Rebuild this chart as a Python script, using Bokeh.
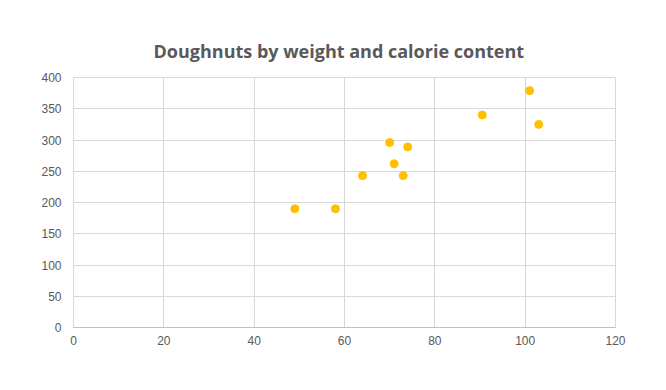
from bokeh.plotting import figure
from bokeh.models import ColumnDataSource, FixedTicker
from bokeh.embed import file_html
from bokeh.resources import INLINE

# Data
weight = [49, 58, 64, 70, 71, 73, 74, 90.5, 101, 103]
calories = [190, 190, 243, 296, 262, 243, 289, 340, 379, 325]
x_ticks = [0, 20, 40, 60, 80, 100, 120]
y_ticks = [0, 50, 100, 150, 200, 250, 300, 350, 400]

source = ColumnDataSource(data=dict(weight=weight, calories=calories))

p = figure(
    frame_width=542, frame_height=250,
    x_range=(0, 120), y_range=(0, 400),
    output_backend="svg", toolbar_location=None,
    min_border_left=73, min_border_right=43, min_border_top=77, min_border_bottom=30,
    background_fill_color="white", border_fill_color="white",
)

p.title.text = "Doughnuts by weight and calorie content"
p.title.align = "left"
p.title.offset = 80
p.title.text_font = "Open Sans"
p.title.text_font_style = "bold"
p.title.text_font_size = "18px"
p.title.text_color = "#595959"
p.title.standoff = 30

p.outline_line_color = "#d9d9d9"

for ax, ticks in ((p.xaxis, x_ticks), (p.yaxis, y_ticks)):
    ax.ticker = FixedTicker(ticks=ticks)
    ax.major_label_text_font = "Liberation Sans"
    ax.major_label_text_font_size = "12px"
    ax.major_label_text_color = "#595959"
    ax.major_tick_line_color = None
    ax.minor_tick_line_color = None
    ax.major_tick_out = 0
    ax.major_tick_in = 0

p.xaxis.axis_line_color = "#bfbfbf"
p.xaxis.major_label_standoff = 8
p.yaxis.axis_line_color = None
p.yaxis.major_label_standoff = 12

p.xgrid.ticker = FixedTicker(ticks=x_ticks)
p.ygrid.ticker = FixedTicker(ticks=y_ticks)
p.grid.grid_line_color = "#d9d9d9"
p.grid.grid_line_width = 1

p.scatter("weight", "calories", source=source, size=8,
          fill_color="#FFC000", line_color="#FFC000")

open("out.html", "w").write(file_html(p, INLINE))
